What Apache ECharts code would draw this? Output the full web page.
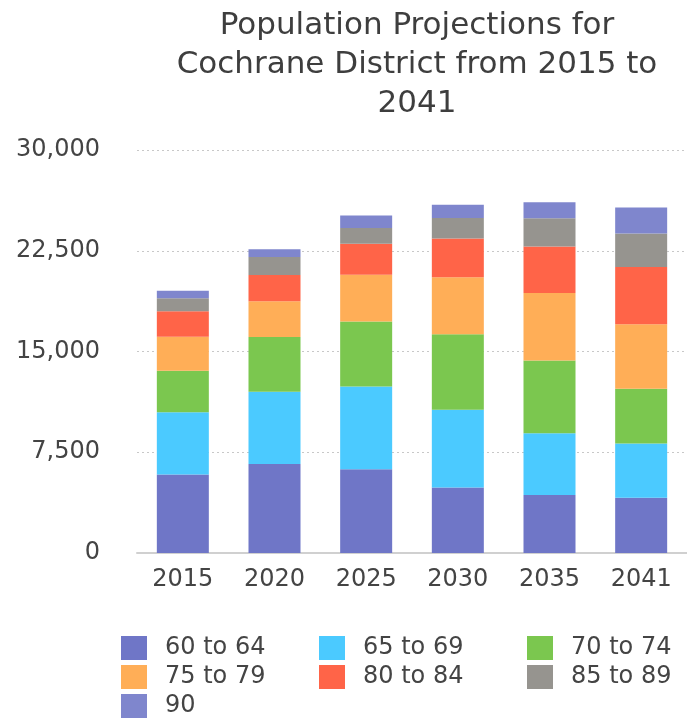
<!DOCTYPE html>
<html>
<head>
<meta charset="utf-8">
<script src="https://cdn.jsdelivr.net/npm/echarts@6/dist/echarts.min.js"></script>
<style>
  html, body { margin: 0; padding: 0; background: #fff; }
  #chart { width: 687px; height: 719px; }
</style>
</head>
<body>
<div id="chart"></div>
<script>
// years on the x axis
const years = ['2015', '2020', '2025', '2030', '2035', '2041'];

// age groups, bottom to top of each stack
const ageGroups = ['60 to 64', '65 to 69', '70 to 74', '75 to 79', '80 to 84', '85 to 89', '90'];
const groupColors = ['#6f76c7', '#4bcaff', '#7bc74f', '#ffae57', '#ff6448', '#96948f', '#7f86cd'];

// population per age group
const age60to64 = [5850, 6630, 6240, 4880, 4310, 4110];
const age65to69 = [4620, 5370, 6160, 5790, 4600, 4035];
const age70to74 = [3100, 4080, 4830, 5620, 5420, 4085];
const age75to79 = [2520, 2670, 3490, 4230, 5030, 4800];
const age80to84 = [1900, 1950, 2300, 2900, 3465, 4260];
const age85to89 = [970, 1340, 1165, 1510, 2100, 2500];
const age90 = [570, 570, 940, 990, 1190, 1930];

const seriesValues = [age60to64, age65to69, age70to74, age75to79, age80to84, age85to89, age90];

// y axis ticks
const yMax = 30000;
const yStep = 7500;

const font = 'DejaVu Sans';
const textColor = '#444';

const chart = echarts.init(document.getElementById('chart'));

// legend laid out as three columns
const legendCols = [
  { left: 121, names: ['60 to 64', '75 to 79', '90'] },
  { left: 319, names: ['65 to 69', '80 to 84'] },
  { left: 527, names: ['70 to 74', '85 to 89'] }
];

const option = {
  animation: false,
  color: groupColors,
  title: {
    text: 'Population Projections for\nCochrane District from 2015 to\n2041',
    left: 412,
    top: 1,
    textAlign: 'center',
    textStyle: {
      fontFamily: font,
      fontSize: 31,
      fontWeight: 'normal',
      lineHeight: 39,
      color: '#3e3e3e'
    }
  },
  legend: legendCols.map(col => ({
    orient: 'vertical',
    left: col.left,
    top: 636,
    padding: 0,
    itemGap: 5,
    itemWidth: 26,
    itemHeight: 24,
    icon: 'rect',
    data: col.names,
    textStyle: {
      fontFamily: font,
      fontSize: 24,
      lineHeight: 24,
      color: textColor,
      padding: [0, 0, 0, 13]
    }
  })),
  grid: {
    left: 137,
    top: 150,
    width: 560,
    height: 403
  },
  xAxis: {
    type: 'category',
    data: years,
    axisTick: { show: false },
    axisLine: { lineStyle: { color: '#d0d0d0', width: 2 } },
    axisLabel: {
      margin: 15,
      fontFamily: font,
      fontSize: 24,
      color: textColor
    }
  },
  yAxis: {
    type: 'value',
    min: 0,
    max: yMax,
    interval: yStep,
    axisLine: { show: false },
    axisTick: { show: false },
    splitLine: {
      lineStyle: { color: '#c8c8c8', type: [2, 3], width: 1 }
    },
    axisLabel: {
      margin: 37,
      fontFamily: font,
      fontSize: 24,
      color: textColor,
      formatter: v => v.toLocaleString('en-US')
    }
  },
  series: ageGroups.map((name, i) => ({
    name: name,
    type: 'bar',
    stack: 'total',
    barWidth: 52,
    data: seriesValues[i]
  }))
};

chart.setOption(option);
</script>
</body>
</html>
